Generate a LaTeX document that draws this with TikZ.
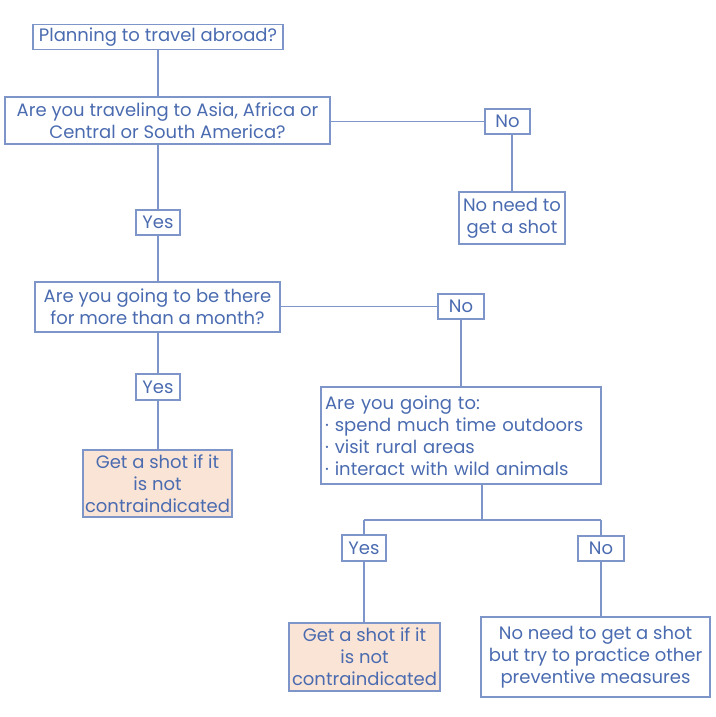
\documentclass[tikz,border=0pt]{standalone}
\usepackage{fontspec}
\setmainfont{Poppins}
\definecolor{txt}{HTML}{4A6BB0}
\definecolor{edge}{HTML}{7D95C9}
\definecolor{peach}{HTML}{FAE4D6}
\begin{document}
\begin{tikzpicture}[x=1pt,y=-1pt,
  box/.style={draw=edge,line width=1.2pt,text=txt,inner sep=0pt,align=center,font=\fontsize{18}{22}\selectfont},
  lbl/.style={box},
  peachbox/.style={box,fill=peach},
  conn/.style={draw=edge,line width=1.2pt}]
\useasboundingbox (0,0) rectangle (715,717);
\node[box,minimum width=250,minimum height=25] (q1) at (158,37) {Planning to travel abroad?};
\node[box,minimum width=325,minimum height=47] (q2) at (167.5,120.5) {Are you traveling to Asia, Africa or\\Central or South America?};
\node[lbl,minimum width=45,minimum height=25] (no1) at (507.5,121.5) {No};
\node[box,minimum width=106,minimum height=52] (r1) at (512,218) {No need to\\get a shot};
\node[lbl,minimum width=44,minimum height=25] (yes1) at (158,222.5) {Yes};
\node[box,minimum width=245,minimum height=50] (q3) at (157.5,307) {Are you going to be there\\for more than a month?};
\node[lbl,minimum width=46,minimum height=25] (no2) at (461,306.5) {No};
\node[lbl,minimum width=44,minimum height=26] (yes2) at (158,387) {Yes};
\node[peachbox,minimum width=149,minimum height=67] (r2) at (157.5,483.5) {Get a shot if it\\is not\\contraindicated};
\node[box,minimum width=280,minimum height=97,align=left,text width=272] (q4) at (461,435.5) {Are you going to:\\{\textperiodcentered} spend much time outdoors\\{\textperiodcentered} visit rural areas\\{\textperiodcentered} interact with wild animals};
\node[lbl,minimum width=44,minimum height=26] (yes3) at (364,548) {Yes};
\node[lbl,minimum width=46,minimum height=25] (no3) at (601,548.5) {No};
\node[peachbox,minimum width=151,minimum height=68] (r3) at (364.5,657) {Get a shot if it\\is not\\contraindicated};
\node[box,minimum width=229,minimum height=80] (r4) at (595.5,657) {No need to get a shot\\but try to practice other\\preventive measures};
\coordinate (split) at (482,520);
\coordinate (sl) at (364,520);
\coordinate (sr) at (601,520);
\draw[conn] (q1) -- (q1|-q2.north);
\draw[conn] (q2.east|-no1) -- (no1);
\draw[conn] (no1.south-|r1) -- (r1);
\draw[conn] (q2.south-|yes1) -- (yes1);
\draw[conn] (yes1) -- (q3.north-|yes1);
\draw[conn] (q3.east|-no2) -- (no2);
\draw[conn] (no2) -- (q4.north-|no2);
\draw[conn] (q3.south-|yes2) -- (yes2);
\draw[conn] (yes2) -- (r2.north-|yes2);
\draw[conn] (q4.south-|split) -- (split);
\draw[conn] (sl) -- (sr);
\draw[conn] (sl) -- (yes3);
\draw[conn] (sr) -- (no3);
\draw[conn] (yes3) -- (r3.north-|yes3);
\draw[conn] (no3) -- (r4.north-|no3);
\end{tikzpicture}
\end{document}
